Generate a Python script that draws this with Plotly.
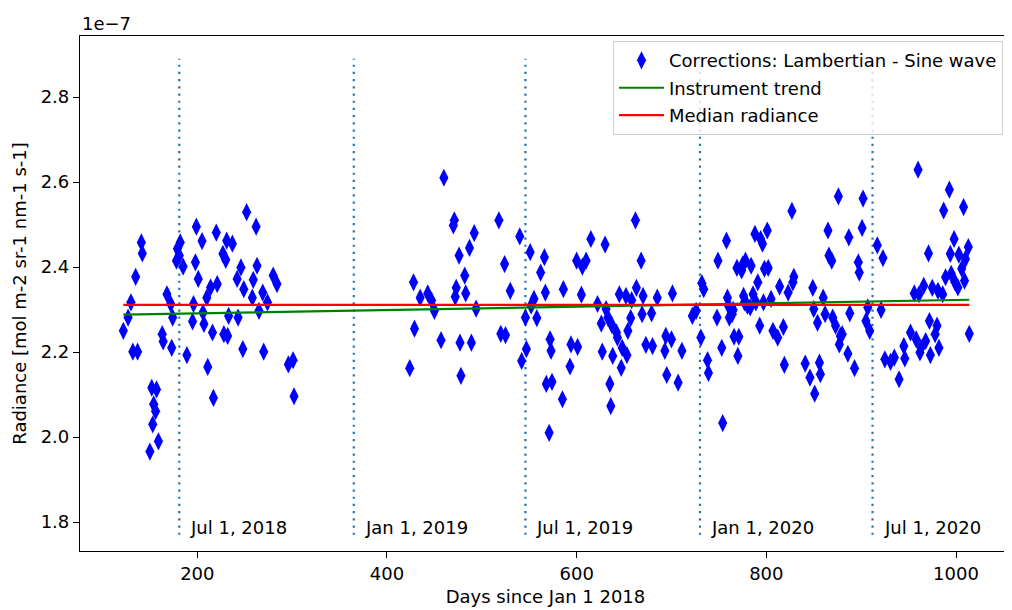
import plotly.graph_objects as go

# days since Jan 1 2018 and radiance (units of 1e-7)
days = [
    122, 127, 130, 132, 135, 137, 141, 142, 150, 152, 153, 154, 156, 157, 159,
    163, 164, 168, 172, 173, 174, 178, 179, 181, 182, 185, 189, 195, 196, 198,
    199, 201, 205, 206, 207, 210, 211, 214, 216, 217, 220, 221, 227, 228, 230,
    231, 232, 233, 237, 242, 243, 246, 248, 249, 252, 258, 259, 262, 263, 265,
    269, 270, 274, 280, 284, 296, 301, 302,
    424, 428, 429, 435, 443, 447, 450, 457, 460, 470, 471, 472, 473, 476, 477,
    478, 482, 483, 487, 489, 492, 494, 518, 520, 524, 525, 530, 540, 542, 546,
    547, 551, 552, 555, 558, 562, 566, 567, 568, 571, 572, 573, 574, 585, 586,
    593, 594, 600, 601, 605, 606, 610, 615, 622, 626, 627, 630, 631, 633, 635,
    636, 637, 638, 642, 643, 645, 647, 648, 652, 653, 654, 657, 658, 662, 663,
    668, 669, 670, 673, 679, 680, 685, 693, 694, 695, 700, 701, 707, 711, 722,
    726, 731, 732, 734, 738, 739, 748, 749,
    753, 754, 758, 759, 760, 761, 764, 765, 766, 769, 770, 771, 774, 775, 776,
    777, 778, 780, 783, 784, 786, 788, 789, 791, 793, 794, 796, 797, 798, 801,
    802, 805, 807, 812, 814, 818, 819, 823, 827, 828, 829, 841, 846, 849, 850,
    851, 854, 856, 857, 860, 862, 865, 866, 869, 870, 873, 876, 877, 878, 880,
    886, 887, 888, 893, 897, 898, 901, 902, 905, 907, 909, 917,
    921, 923, 925, 931, 935, 940, 945, 946, 952, 956, 958, 960, 961, 962, 963,
    966, 968, 971, 972, 973, 975, 978, 980, 981, 982, 986, 987, 989, 993, 994,
    995, 998, 999, 1002, 1003, 1006, 1008, 1009, 1010, 1013, 1014,
]
radiance = [
    2.250, 2.281, 2.317, 2.201, 2.377, 2.201, 2.458, 2.432, 1.966, 2.116, 2.030, 2.077, 2.061, 2.112, 1.990,
    2.242, 2.225, 2.336, 2.313, 2.210, 2.281, 2.415, 2.443, 2.427, 2.458, 2.401, 2.193, 2.272, 2.313, 2.411,
    2.495, 2.372, 2.461, 2.293, 2.266, 2.328, 2.165, 2.352, 2.246, 2.092, 2.481, 2.360, 2.431, 2.242, 2.417,
    2.462, 2.238, 2.285, 2.455, 2.372, 2.281, 2.399, 2.207, 2.348, 2.529, 2.328, 2.370, 2.495, 2.403, 2.297,
    2.340, 2.201, 2.317, 2.380, 2.360, 2.171, 2.181, 2.096,
    2.162, 2.364, 2.255, 2.328, 2.338, 2.321, 2.297, 2.228, 2.610, 2.498, 2.510, 2.330, 2.351, 2.427, 2.222,
    2.144, 2.380, 2.338, 2.445, 2.222, 2.480, 2.302, 2.510, 2.243, 2.407, 2.240, 2.344, 2.472, 2.179, 2.281,
    2.207, 2.435, 2.309, 2.325, 2.280, 2.387, 2.423, 2.340, 2.125, 2.010, 2.230, 2.203, 2.130, 2.089, 2.348,
    2.166, 2.218, 2.415, 2.212, 2.335, 2.401, 2.415, 2.466, 2.313, 2.267, 2.201, 2.453, 2.301, 2.281, 2.125,
    2.073, 2.264, 2.191, 2.246, 2.234, 2.336, 2.163, 2.210, 2.332, 2.193, 2.250, 2.280, 2.322, 2.510, 2.351,
    2.415, 2.289, 2.332, 2.217, 2.291, 2.214, 2.328, 2.203, 2.238, 2.146, 2.230, 2.338, 2.128, 2.203, 2.285,
    2.297, 2.234, 2.362, 2.348, 2.181, 2.151, 2.281, 2.415,
    2.210, 2.033, 2.462, 2.328, 2.309, 2.281, 2.289, 2.299, 2.236, 2.398, 2.191, 2.236, 2.392, 2.406, 2.332,
    2.317, 2.415, 2.309, 2.305, 2.403, 2.336, 2.478, 2.317, 2.364, 2.262, 2.466, 2.455, 2.317, 2.396, 2.486,
    2.398, 2.325, 2.250, 2.234, 2.354, 2.259, 2.170, 2.340, 2.532, 2.364, 2.377, 2.173, 2.140, 2.351, 2.301,
    2.102, 2.269, 2.175, 2.148, 2.328, 2.289, 2.486, 2.427, 2.415, 2.281, 2.262, 2.566, 2.218, 2.238, 2.242,
    2.196, 2.470, 2.291, 2.162, 2.411, 2.387, 2.492, 2.561, 2.273, 2.305, 2.250, 2.451,
    2.299, 2.421, 2.183, 2.177, 2.187, 2.136, 2.214, 2.185, 2.246, 2.338, 2.230, 2.629, 2.336, 2.199, 2.210,
    2.356, 2.226, 2.432, 2.273, 2.193, 2.351, 2.242, 2.262, 2.344, 2.210, 2.336, 2.533, 2.376, 2.582, 2.431,
    2.384, 2.466, 2.364, 2.352, 2.429, 2.396, 2.541, 2.368, 2.419, 2.447, 2.243,
]

trend_days = [122, 1014]
trend_vals = [2.288, 2.323]
median_vals = [2.311, 2.311]

event_days = [181, 365, 546, 730, 912]
event_labels = ["Jul 1, 2018", "Jan 1, 2019", "Jul 1, 2019", "Jan 1, 2020", "Jul 1, 2020"]
event_span = [1.77, 2.89]

x_ticks = [200, 400, 600, 800, 1000]
y_ticks = [1.8, 2.0, 2.2, 2.4, 2.6, 2.8]
y_ticktext = ["1.8", "2.0", "2.2", "2.4", "2.6", "2.8"]

FONT = "DejaVu Sans"
FS = 18
txt = dict(family=FONT, size=FS, color="black")

fig = go.Figure()

for d in event_days:
    fig.add_trace(go.Scatter(x=[d, d], y=event_span, mode="lines", showlegend=False,
                             hoverinfo="skip",
                             line=dict(color="#1f77b4", width=2.2, dash="2.2px,5px")))

fig.add_trace(go.Scatter(x=days, y=radiance, mode="markers", legendgroup="a",
                         name="Corrections: Lambertian - Sine wave",
                         marker=dict(symbol="diamond-tall", size=13, color="blue",
                                     line=dict(width=0))))
fig.add_trace(go.Scatter(x=trend_days, y=trend_vals, mode="lines", name="Instrument trend",
                         legendgroup="b", line=dict(color="green", width=2.2)))
fig.add_trace(go.Scatter(x=trend_days, y=median_vals, mode="lines", name="Median radiance",
                         legendgroup="c", line=dict(color="red", width=2.2)))

for d, lab in zip(event_days, event_labels):
    fig.add_annotation(x=d, y=1.7875, text=lab, showarrow=False, xanchor="left",
                       yanchor="middle", xshift=9, font=txt)

fig.add_annotation(x=0, y=1, xref="paper", yref="paper", text="1e\u22127", showarrow=False,
                   xanchor="left", yanchor="bottom", yshift=0, font=txt)

axis_common = dict(showline=True, linecolor="black", linewidth=1.2, mirror=True,
                   ticks="outside", ticklen=6, tickcolor="black", tickwidth=1.2,
                   showgrid=False, zeroline=False, automargin=False, tickfont=txt)

fig.update_xaxes(range=[76.3, 1058], tickvals=x_ticks, **axis_common,
                 title=dict(text="Days since Jan 1 2018", standoff=7, font=txt))
fig.update_yaxes(range=[1.732, 2.9435], tickvals=y_ticks, ticktext=y_ticktext, **axis_common,
                 title=dict(text="Radiance [mol m-2 sr-1 nm-1 s-1]", standoff=9, font=txt))

# page body adds an 8px margin, so the figure is 8px smaller and shifted up-left
fig.update_layout(
    width=1004, height=602,
    margin=dict(l=72, r=1, t=28, b=59),
    plot_bgcolor="white", paper_bgcolor="white",
    font=txt,
    legend=dict(x=0.9914, y=0.990, xanchor="right", yanchor="top", tracegroupgap=1,
                itemwidth=45,
                bgcolor="rgba(255,255,255,0.8)", bordercolor="#cccccc", borderwidth=1,
                font=txt),
)

fig.write_html("out.html")
